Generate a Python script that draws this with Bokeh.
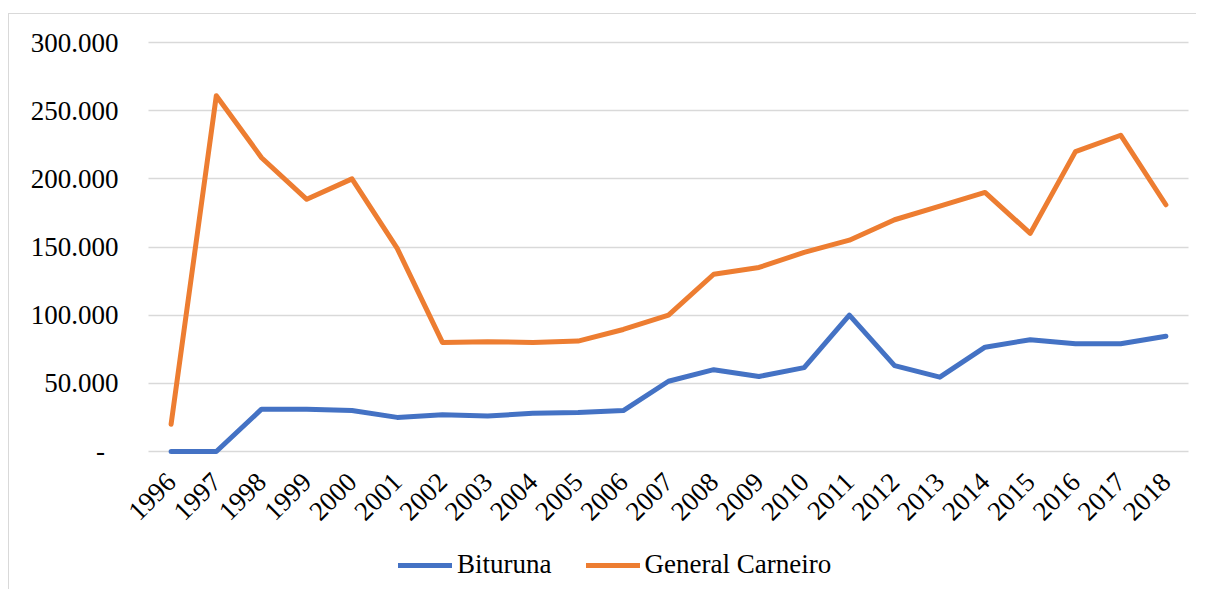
from bokeh.plotting import figure
from bokeh.models import FixedTicker, Range1d, Legend, LegendItem
from bokeh.embed import file_html
from bokeh.resources import INLINE
import math

years = list(range(1996, 2019))
bituruna = [0, 0, 31000, 31000, 30000, 25000, 27000, 26000, 28000, 28500, 30000,
            51500, 60000, 55000, 61500, 100000, 63000, 54500, 76500, 82000, 79000, 79000, 84500]
general_carneiro = [20000, 261000, 215500, 185000, 200000, 149000, 80000, 80500, 80000, 81000, 89500,
                    100000, 130000, 135000, 146000, 155000, 170000, 180000, 190000, 160000, 220000, 232000, 181000]
series_names = ["Bituruna", "General Carneiro"]
y_ticks = [0, 50000, 100000, 150000, 200000, 250000, 300000]
y_labels = ["-\u00a0\u00a0", "50.000", "100.000", "150.000", "200.000", "250.000", "300.000"]

FONT = "Liberation Serif"
FS = "27px"
BLUE = "#4472C4"
ORANGE = "#ED7D31"
GRID = "#D9D9D9"

# Layout: the plotting frame covers the whole canvas; the data area (1995.5..2018.5 x -1500..301500)
# occupies 1040 x 413 px inside it, axes are drawn at fixed locations so nothing is clipped.
X0, X1 = 1995.5, 2018.5
Y0, Y1 = -1500, 301500
PX_X = 1040 / (X1 - X0)
PX_Y = 413 / (Y1 - Y0)
FRAME_W, FRAME_H = 1187, 575
PAD_L, PAD_R, PAD_T, PAD_B = 139, 8, 26, 136

p = figure(frame_width=FRAME_W, frame_height=FRAME_H, output_backend="svg", toolbar_location=None,
           x_range=Range1d(X0 - PAD_L / PX_X, X1 + PAD_R / PX_X),
           y_range=Range1d(Y0 - PAD_B / PX_Y, Y1 + PAD_T / PX_Y),
           min_border_left=0, min_border_right=0, min_border_top=0, min_border_bottom=0)
p.margin = (13, 0, 0, 8)
p.styles = {"border-left": "1px solid #D9D9D9", "border-top": "1px solid #D9D9D9"}
p.outline_line_color = None
p.background_fill_color = "white"
p.border_fill_color = "white"

r1 = p.line(years, bituruna, line_color=BLUE, line_width=5, line_join="round", line_cap="round")
r2 = p.line(years, general_carneiro, line_color=ORANGE, line_width=5, line_join="round", line_cap="round")

# axes
p.xaxis.fixed_location = 0
p.xaxis.ticker = FixedTicker(ticks=years)
p.xaxis.major_label_overrides = {y: str(y) for y in years}
p.xaxis.major_label_orientation = math.pi / 4
p.xaxis.axis_line_color = None
p.xaxis.major_tick_line_color = None
p.xaxis.minor_tick_line_color = None
p.xaxis.major_tick_out = 0
p.xaxis.major_tick_in = 0
p.xaxis.major_label_standoff = 26
p.xaxis.major_label_text_font = FONT
p.xaxis.major_label_text_font_size = FS
p.xaxis.major_label_text_color = "black"

p.yaxis.fixed_location = X0
p.yaxis.ticker = FixedTicker(ticks=y_ticks)
p.yaxis.major_label_overrides = {t: l for t, l in zip(y_ticks, y_labels)}
p.yaxis.axis_line_color = None
p.yaxis.major_tick_line_color = None
p.yaxis.minor_tick_line_color = None
p.yaxis.major_tick_out = 0
p.yaxis.major_tick_in = 0
p.yaxis.major_label_standoff = 30
p.yaxis.major_label_text_font = FONT
p.yaxis.major_label_text_font_size = FS
p.yaxis.major_label_text_color = "black"

p.xgrid.grid_line_color = None
p.ygrid.ticker = FixedTicker(ticks=y_ticks)
p.ygrid.grid_line_color = GRID
p.ygrid.grid_line_width = 1.5
for g in p.ygrid:
    if "cross_bounds" in g.properties():
        g.cross_bounds = (X0, X1)

legend = Legend(items=[LegendItem(label=series_names[0], renderers=[r1]),
                       LegendItem(label=series_names[1], renderers=[r2])],
                location=(389, 9), orientation="horizontal")
legend.label_text_font = FONT
legend.label_text_font_size = FS
legend.label_text_color = "black"
legend.glyph_width = 54
legend.glyph_height = 30
legend.label_height = 30
legend.label_standoff = 5
legend.spacing = 34
legend.padding = 0
legend.margin = 0
legend.border_line_color = None
legend.background_fill_alpha = 0
p.add_layout(legend, "center")

open("out.html", "w").write(file_html(p, INLINE))
